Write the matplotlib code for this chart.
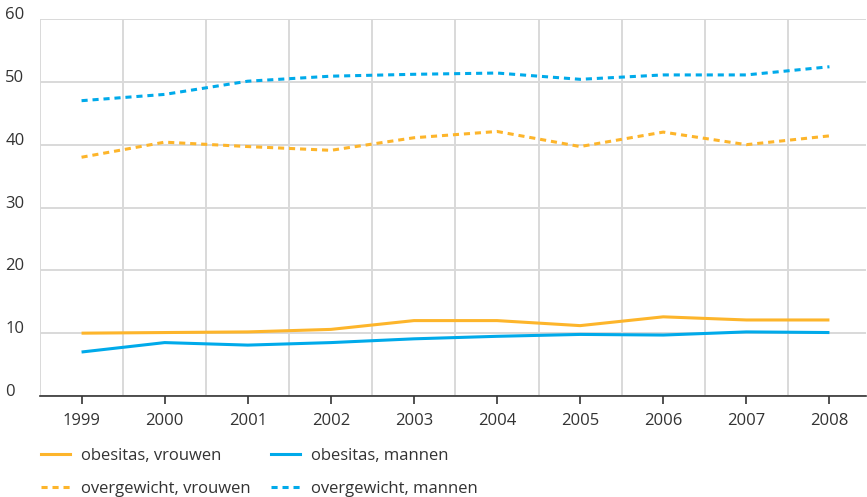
import matplotlib
matplotlib.use("Agg")
import matplotlib.pyplot as plt
from matplotlib.lines import Line2D
import numpy as np

plt.rcParams['font.family'] = ['Open Sans', 'DejaVu Sans']

years = ['1999', '2000', '2001', '2002', '2003', '2004', '2005', '2006', '2007', '2008']
obesitas_vrouwen = [10.0, 10.1, 10.2, 10.6, 12.0, 12.0, 11.2, 12.6, 12.1, 12.1]
obesitas_mannen = [7.0, 8.5, 8.1, 8.5, 9.1, 9.5, 9.8, 9.7, 10.2, 10.1]
overgewicht_vrouwen = [38.0, 40.4, 39.7, 39.1, 41.1, 42.1, 39.7, 42.0, 40.0, 41.4]
overgewicht_mannen = [47.0, 48.0, 50.1, 50.9, 51.2, 51.4, 50.4, 51.1, 51.1, 52.4]
labels = ['obesitas, vrouwen', 'obesitas, mannen', 'overgewicht, vrouwen', 'overgewicht, mannen']
yticks = [0, 10, 20, 30, 40, 50, 60]

ORANGE = '#fdb52b'
BLUE = '#00aaea'
TXT = '#333333'
GRID = '#d9d9d9'
FS = 12

W, H = 867, 497
fig = plt.figure(figsize=(W / 100, H / 100), dpi=100)
ax = fig.add_axes([40 / W, 101 / H, (866 - 40) / W, (396 - 19) / H])

x = np.arange(len(years))
lw = 2.2
dash = (2.0, 1.6)
ax.plot(x, obesitas_vrouwen, color=ORANGE, lw=lw, solid_capstyle='butt', zorder=3)
ax.plot(x, obesitas_mannen, color=BLUE, lw=lw, solid_capstyle='butt', zorder=3)
ax.plot(x, overgewicht_vrouwen, color=ORANGE, lw=lw, dashes=dash, zorder=3)
ax.plot(x, overgewicht_mannen, color=BLUE, lw=lw, dashes=dash, zorder=3)

ax.set_xlim(-0.5, 9.44)
ax.set_ylim(0, 60)

ax.set_xticks(x)
ax.set_xticklabels(years)
ax.set_xticks(np.arange(-0.5, 9.5, 1.0), minor=True)
ax.set_yticks(yticks)
ax.set_yticklabels([str(v) for v in yticks])

ax.grid(True, axis='y', which='major', color=GRID, lw=1.4, zorder=0)
ax.grid(True, axis='x', which='minor', color=GRID, lw=1.4, zorder=0)
ax.grid(False, axis='x', which='major')
ax.set_axisbelow(True)

for s in ['left', 'right', 'top']:
    ax.spines[s].set_visible(False)
ax.spines['bottom'].set_color(TXT)
ax.spines['bottom'].set_linewidth(1.2)
ax.spines['bottom'].set_zorder(4)

ax.tick_params(axis='x', which='major', length=6, width=1.2, color=TXT,
               labelcolor=TXT, labelsize=FS, pad=6)
ax.tick_params(axis='x', which='minor', length=0)
ax.tick_params(axis='y', which='major', length=0, labelcolor=TXT, labelsize=FS, pad=25)
for lab in ax.get_yticklabels():
    lab.set_horizontalalignment('left')
    lab.set_verticalalignment('baseline')

handles = [
    Line2D([], [], color=ORANGE, lw=lw),
    Line2D([], [], color=ORANGE, lw=lw, dashes=dash),
    Line2D([], [], color=BLUE, lw=lw),
    Line2D([], [], color=BLUE, lw=lw, dashes=dash),
]
leg_labels = [labels[0], labels[2], labels[1], labels[3]]
leg = fig.legend(handles, leg_labels, ncol=2, loc='upper left',
                 bbox_to_anchor=(36 / W, 1 - 443 / H), frameon=False,
                 fontsize=FS, handlelength=1.75, handletextpad=0.65,
                 columnspacing=1.2, labelspacing=1.03, borderaxespad=0,
                 borderpad=0.3)
for t in leg.get_texts():
    t.set_color(TXT)

fig.savefig('out.png', dpi=100)
